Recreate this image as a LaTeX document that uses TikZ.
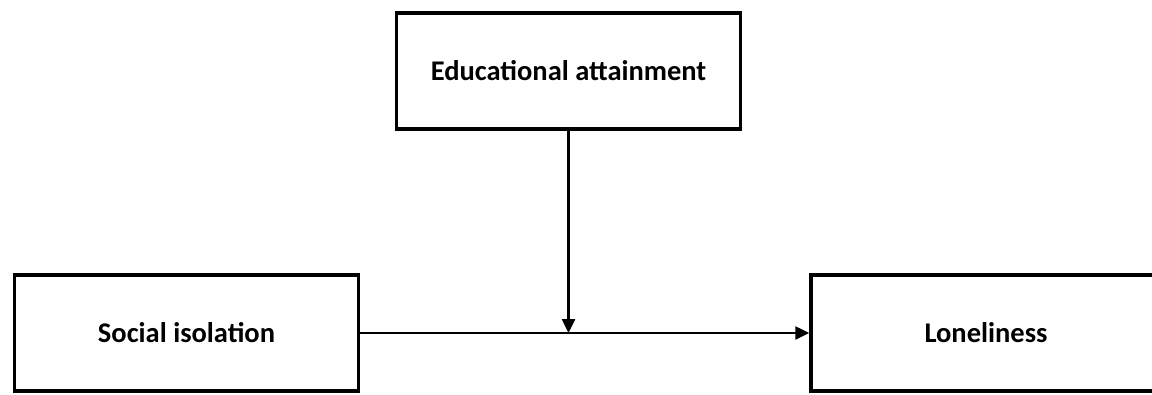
\documentclass[tikz,border=0pt]{standalone}
\usepackage{fontspec}
\setmainfont{Carlito}
\usetikzlibrary{arrows.meta}
\tikzset{
	varbox/.style={draw, line width=3.5pt, minimum height=116pt, inner sep=0pt,
			font=\fontsize{28.5}{34}\selectfont\bfseries},
	link/.style={line width=2.5pt, -{Triangle[length=14pt,width=13pt]}}
}

\begin{document}
\begin{tikzpicture}[x=1pt,y=-1pt]
		\clip (0,0) rectangle (1152,394);
		\node [varbox, minimum width=344pt] (edu) at (568.5,71) {Educational attainment};
		\node [varbox, minimum width=344pt] (soc) at (186.5,333) {Social isolation};
		\node [varbox, minimum width=350pt] (lon) at (986,333) {Loneliness};
		\draw [link] (soc.east) -- (lon.west);
		\draw [link] (edu.south) -- (edu.south |- soc.east);
	\end{tikzpicture}
\end{document}
